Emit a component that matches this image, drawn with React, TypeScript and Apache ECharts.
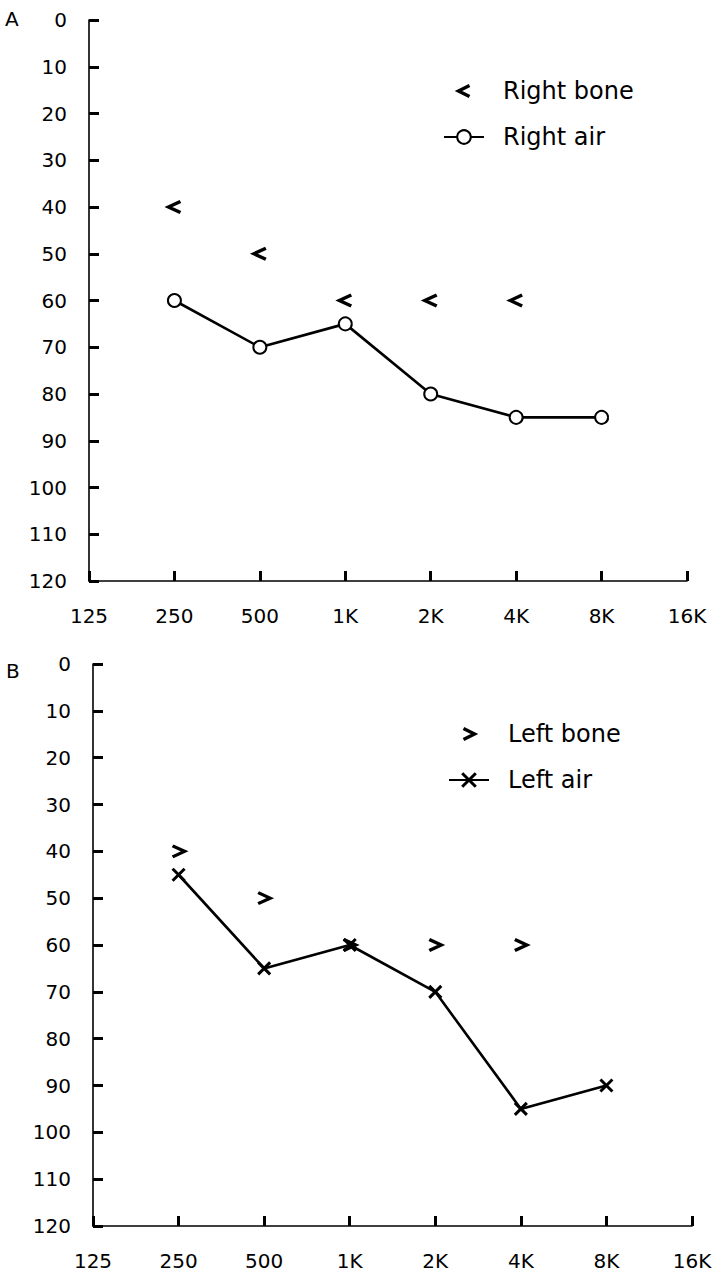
import React, { useEffect, useRef } from "react";
import * as echarts from "echarts";

const freqLabels = ["125", "250", "500", "1K", "2K", "4K", "8K", "16K"];
const rightBone = [null, 40, 50, 60, 60, 60, null, null];
const rightAir = [null, 60, 70, 65, 80, 85, 85, null];
const leftBone = [null, 40, 50, 60, 60, 60, null, null];
const leftAir = [null, 45, 65, 60, 70, 95, 90, null];
const panelLabels = ["A", "B"];

const FONT = "DejaVu Sans";
const INK = "#000";

const chevronLeft = "path://M10,0L0,5L10,10";
const chevronRight = "path://M0,0L10,5L0,10";
const cross = "path://M0,0L10,10M10,0L0,10";
// legend icons padded with bare move-to points so the chevron keeps its small size
const chevronLeftIcon = "path://M0,0M14,3L3,8.5L14,14M17,17";
const chevronRightIcon = "path://M0,0M3,3L14,8.5L3,14M17,17";

function xAxisFor(gridIndex: number) {
  return {
    type: "category",
    gridIndex,
    position: "bottom",
    data: freqLabels,
    boundaryGap: false,
    axisLine: { show: true, onZero: false, lineStyle: { color: INK, width: 1.6 } },
    axisTick: { show: true, inside: true, length: 10, lineStyle: { color: INK, width: 3 } },
    axisLabel: { color: INK, fontSize: 20, fontFamily: FONT, margin: 25 },
    splitLine: { show: false },
  };
}

function yAxisFor(gridIndex: number) {
  return {
    type: "value",
    gridIndex,
    position: "left",
    inverse: true,
    min: 0,
    max: 120,
    interval: 10,
    axisLine: { show: true, onZero: false, lineStyle: { color: INK, width: 1.6 } },
    axisTick: { show: true, inside: true, length: 10, lineStyle: { color: INK, width: 3 } },
    axisLabel: { color: INK, fontSize: 20, fontFamily: FONT, margin: 22 },
    splitLine: { show: false },
  };
}

export default function App() {
  const ref = useRef<HTMLDivElement>(null);

  useEffect(() => {
    if (!ref.current) return;
    const chart = echarts.init(ref.current, null, { renderer: "svg" });
    const legendText = {
      color: INK,
      fontSize: 24,
      fontFamily: FONT,
      padding: [0, 0, 0, 14],
    };
    const boneStyle = { color: "rgba(0,0,0,0)", borderColor: INK, borderWidth: 3.4, opacity: 1 };
    const crossStyle = { color: "rgba(0,0,0,0)", borderColor: INK, borderWidth: 3, opacity: 1 };
    chart.setOption({
      animation: false,
      backgroundColor: "#fff",
      title: [
        {
          text: panelLabels[0],
          left: 5,
          top: 9,
          padding: 0,
          textStyle: { fontSize: 20, fontWeight: "normal", fontFamily: FONT, color: INK },
        },
        {
          text: panelLabels[1],
          left: 6,
          top: 661,
          padding: 0,
          textStyle: { fontSize: 20, fontWeight: "normal", fontFamily: FONT, color: INK },
        },
      ],
      legend: [
        {
          data: [
            { name: "Right bone", icon: chevronLeftIcon, itemStyle: boneStyle },
            { name: "Right air" },
          ],
          orient: "vertical",
          left: 443,
          top: 79,
          padding: 0,
          itemWidth: 40,
          itemHeight: 17,
          itemGap: 22,
          textStyle: legendText,
        },
        {
          data: [
            { name: "Left bone", icon: chevronRightIcon, itemStyle: boneStyle },
            { name: "Left air", itemStyle: crossStyle },
          ],
          orient: "vertical",
          left: 448,
          top: 722,
          padding: 0,
          itemWidth: 40,
          itemHeight: 17,
          itemGap: 22,
          textStyle: legendText,
        },
      ],
      grid: [
        { left: 89, top: 20, width: 598, height: 561 },
        { left: 93, top: 664, width: 599, height: 562 },
      ],
      xAxis: [xAxisFor(0), xAxisFor(1)],
      yAxis: [yAxisFor(0), yAxisFor(1)],
      series: [
        {
          name: "Right air",
          type: "line",
          xAxisIndex: 0,
          yAxisIndex: 0,
          data: rightAir,
          symbol: "emptyCircle",
          symbolSize: 13,
          showAllSymbol: true,
          lineStyle: { color: INK, width: 2.6 },
          itemStyle: { color: INK, borderColor: INK, borderWidth: 2.6 },
          z: 2,
        },
        {
          name: "Right bone",
          type: "scatter",
          xAxisIndex: 0,
          yAxisIndex: 0,
          data: rightBone,
          symbol: chevronLeft,
          symbolSize: [12, 11],
          itemStyle: boneStyle,
          z: 3,
        },
        {
          name: "Left air",
          type: "line",
          xAxisIndex: 1,
          yAxisIndex: 1,
          data: leftAir,
          symbol: cross,
          symbolSize: 12,
          showAllSymbol: true,
          lineStyle: { color: INK, width: 2.6 },
          itemStyle: crossStyle,
          z: 2,
        },
        {
          name: "Left bone",
          type: "scatter",
          xAxisIndex: 1,
          yAxisIndex: 1,
          data: leftBone,
          symbol: chevronRight,
          symbolSize: [12, 11],
          itemStyle: boneStyle,
          z: 3,
        },
      ],
    });
    return () => chart.dispose();
  }, []);

  return (
    <div
      ref={ref}
      style={{ position: "absolute", left: 0, top: 0, width: 724, height: 1280, background: "#fff" }}
    />
  );
}
